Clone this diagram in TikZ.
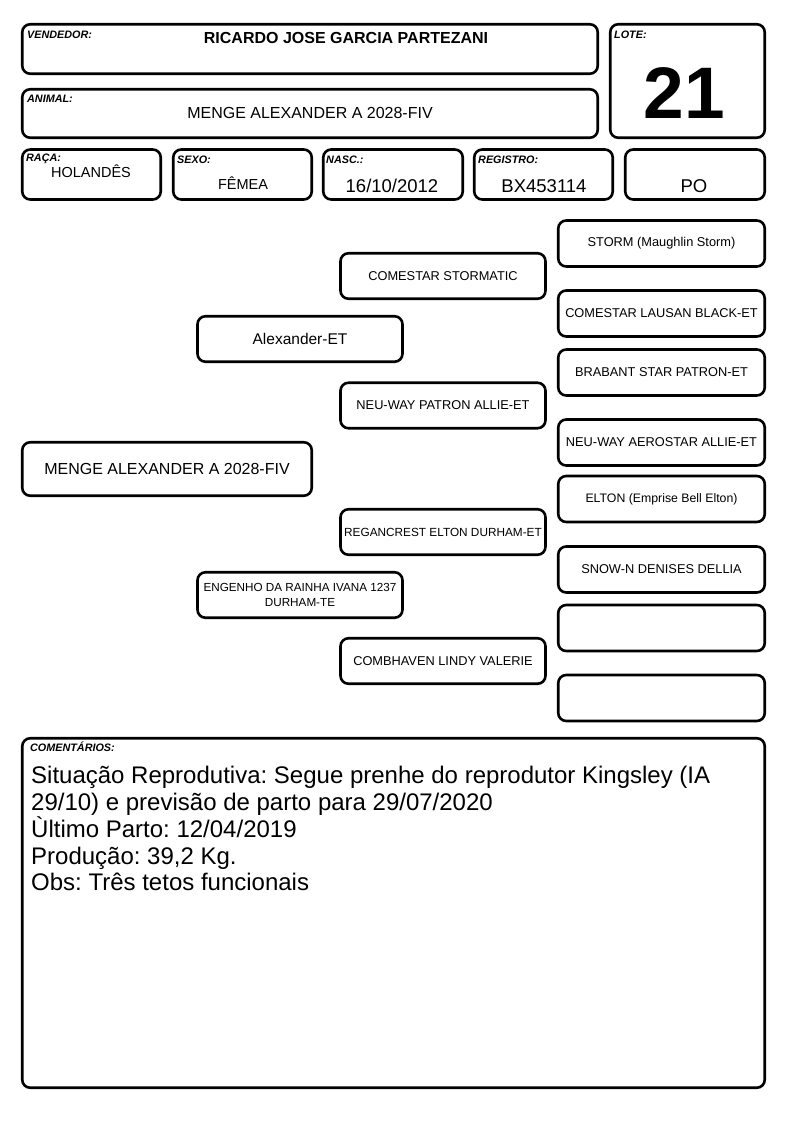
\documentclass[tikz,border=0pt]{standalone}
\usepackage{fontspec}
\setmainfont{Liberation Sans}
\frenchspacing
\begin{document}
\begin{tikzpicture}[x=1pt,y=-1pt,
  box/.style={draw, line width=2.6pt, rounded corners=8pt, inner sep=0pt, outer sep=0pt, align=center},
  lbl/.style={font=\fontsize{10.8}{12}\selectfont\bfseries\itshape, inner sep=0pt, anchor=base west},
  val/.style={inner sep=0pt, anchor=base},
  fbox/.style={box, minimum height=50pt},
  pbox/.style={box, minimum width=205pt, minimum height=45.5pt, font=\fontsize{12.8}{15}\selectfont},
  rbox/.style={box, minimum width=206.5pt, minimum height=46pt, font=\fontsize{12.8}{15}\selectfont}
]
\fill[white] (0,0) rectangle (794,1123);
\useasboundingbox (0,0) rectangle (794,1123);

% ---- header boxes
\node[box, minimum width=575.5pt, minimum height=49.5pt] (vend) at (310,49) {};
\node[box, minimum width=575.5pt, minimum height=48.5pt] (anim) at (310,113.5) {};
\node[box, minimum width=154.5pt, minimum height=113.5pt] (lote) at (687.5,81) {};
\node[fbox, minimum width=138.5pt] (raca) at (91.5,174.5) {};
\node[fbox, minimum width=138.5pt] (sexo) at (242.5,174.5) {};
\node[fbox, minimum width=139.5pt] (nasc) at (393,174.5) {};
\node[fbox, minimum width=138.5pt] (reg) at (543.5,174.5) {};
\node[fbox, minimum width=139.5pt] (po) at (695,174.5) {};

% ---- header labels and values
\node[lbl] (lvend) at (27,39) {VENDEDOR:};
\node[val, font=\fontsize{16}{19}\selectfont\bfseries] (tvend) at (346,44) {RICARDO JOSE GARCIA PARTEZANI};
\node[lbl] (lanim) at (27,103) {ANIMAL:};
\node[val, font=\fontsize{16}{19}\selectfont] (tanim) at (310,119) {MENGE ALEXANDER A 2028-FIV};
\node[lbl] (llote) at (614,39) {LOTE:};
\node[val, font=\fontsize{73}{80}\selectfont\bfseries] (tlote) at (684.5,118.5) {21};
\node[lbl] (lraca) at (26,161.5) {RAÇA:};
\node[val, font=\fontsize{14.5}{17}\selectfont] (traca) at (91,177.5) {HOLANDÊS};
\node[lbl] (lsexo) at (177,163.5) {SEXO:};
\node[val, font=\fontsize{14.5}{17}\selectfont] (tsexo) at (243,189.5) {FÊMEA};
\node[lbl] (lnasc) at (326,163.5) {NASC.:};
\node[val, font=\fontsize{18.5}{22}\selectfont] (tnasc) at (392,193) {16/10/2012};
\node[lbl] (lreg) at (478,163.5) {REGISTRO:};
\node[val, font=\fontsize{18.5}{22}\selectfont] (treg) at (544,193) {BX453114};
\node[val, font=\fontsize{18.5}{22}\selectfont] (tpo) at (694,193) {PO};

% ---- pedigree
\node[box, minimum width=289.5pt, minimum height=53.5pt, font=\fontsize{16}{19}\selectfont] (g0) at (167,469) {MENGE ALEXANDER A 2028-FIV};
\node[pbox, font=\fontsize{15.5}{18}\selectfont] (s) at (300,339) {Alexander-ET};
\node[pbox, font=\fontsize{11.7}{15.5}\selectfont] (d) at (300,595) {ENGENHO DA RAINHA IVANA 1237\\DURHAM-TE};
\node[pbox] (ss) at (443,276) {COMESTAR STORMATIC};
\node[pbox] (sd) at (443,405.5) {NEU-WAY PATRON ALLIE-ET};
\node[pbox, font=\fontsize{11.8}{15}\selectfont] (ds) at (443,532) {REGANCREST ELTON DURHAM-ET};
\node[pbox] (dd) at (443,661) {COMBHAVEN LINDY VALERIE};
\node[rbox] (sss) at (661.5,243.5) {STORM (Maughlin Storm)};
\node[rbox] (ssd) at (661.5,313.5) {COMESTAR LAUSAN BLACK-ET};
\node[rbox] (sds) at (661.5,372.5) {BRABANT STAR PATRON-ET};
\node[rbox] (sdd) at (661.5,442.5) {NEU-WAY AEROSTAR ALLIE-ET};
\node[rbox, font=\fontsize{12.3}{15}\selectfont] (dss) at (661.5,499) {ELTON (Emprise Bell Elton)};
\node[rbox] (dsd) at (661.5,569.5) {SNOW-N DENISES DELLIA};
\node[rbox] (dds) at (661.5,628) {};
\node[rbox] (ddd) at (661.5,698) {};

% ---- comments
\node[box, minimum width=742.5pt, minimum height=349.5pt] (com) at (393.5,913) {};
\node[lbl] (lcom) at (30,751.5) {COMENTÁRIOS:};
\node[anchor=north west, inner sep=0pt, align=left, font=\fontsize{24}{26.8}\selectfont] (tcom) at (31,766)
  {Situação Reprodutiva: Segue prenhe do reprodutor Kingsley (IA\\29/10) e previsão de parto para 29/07/2020\\Ùltimo Parto: 12/04/2019\\Produção: 39,2 Kg.\\Obs: Três tetos funcionais};
\end{tikzpicture}
\end{document}
